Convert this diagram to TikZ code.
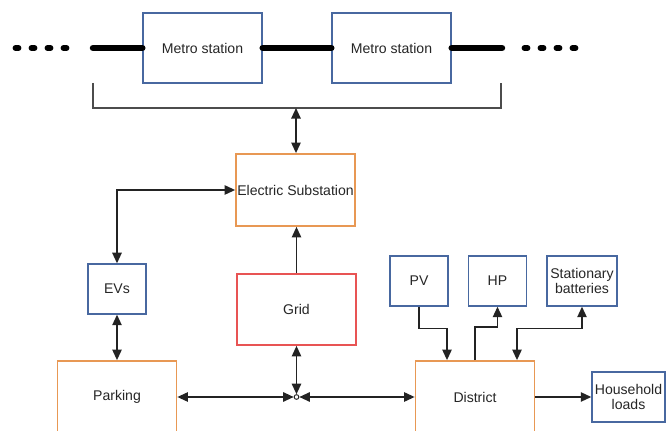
\documentclass[tikz,border=0pt]{standalone}
\usepackage{fontspec}
\setmainfont{Liberation Sans}
\usetikzlibrary{arrows.meta,calc}
\definecolor{bblue}{RGB}{72,104,160}
\definecolor{borange}{RGB}{232,152,84}
\definecolor{bred}{RGB}{232,84,84}
\definecolor{conn}{RGB}{35,35,35}
\begin{document}
\begin{tikzpicture}[x=0.03cm,y=-0.03cm,
  every node/.style={font=\fontsize{12}{13}\selectfont, text=black!85, align=center},
  bluebox/.style={draw=bblue, line width=1.2pt, inner sep=0pt},
  orangebox/.style={draw=borange, line width=1.5pt, inner sep=0pt, minimum width=3.57cm, minimum height=2.16cm},
  redbox/.style={draw=bred, line width=1.5pt, inner sep=0pt, minimum width=3.57cm, minimum height=2.13cm},
  metrobox/.style={bluebox, minimum width=3.57cm, minimum height=2.1cm},
  smallbox/.style={bluebox, minimum width=1.74cm, minimum height=1.5cm},
  conline/.style={draw=conn, line width=1.3pt},
  biarrow/.style={conline, {Triangle[length=9pt,width=8pt]}-{Triangle[length=9pt,width=8pt]}},
  onearrow/.style={conline, -{Triangle[length=9pt,width=8pt]}},
  metroline/.style={line width=5.5pt, black, line cap=round},
  dotmark/.style={fill=black, draw=none}
]
\useasboundingbox (0,0) rectangle (669,431);
\fill[white] (0,0) rectangle (669,431);

% metro stations
\node[metrobox] (m1) at (202.5,48) {Metro station};
\node[metrobox] (m2) at (391.5,48) {Metro station};
\coordinate (lend) at (93,48);
\coordinate (rend) at (502,48);
\draw[metroline] (lend) -- (m1.west);
\draw[metroline] (m1.east) -- (m2.west);
\draw[metroline] (m2.east) -- (rend);
\foreach \x in {17,33,49,65,526,542,558,574} \draw[metroline, line width=5pt] (\x-1.5,48) -- (\x+1.5,48);

% bracket
\coordinate (bl) at (93,83);
\coordinate (br) at (501,83);
\coordinate (bm) at (296,108);
\draw[draw=black!70, line width=1.1pt] (bl) |- (bm) -| (br);

% substation and grid
\node[orangebox] (sub) at (295.5,190) {Electric Substation};
\node[redbox] (grid) at (296.5,309.5) {Grid};
\draw[biarrow] (bm) -- (sub.north -| bm);
\draw[onearrow] (grid.north) -- (grid.north |- sub.south);

% EVs and parking
\node[smallbox] (evs) at (117,289) {EVs};
\node[orangebox] (park) at (117,397) {Parking};
\draw[biarrow] (evs.north) |- (sub.west);
\draw[biarrow] (evs.south) -- (park.north);

% junction
\node[draw=conn, circle, inner sep=0pt, minimum size=0.14cm, line width=0.8pt, fill=white] (jn) at (296.5,397) {};
\draw[biarrow] (grid.south) -- (jn.north);
\draw[biarrow] (park.east) -- (jn.west);

% district side
\node[orangebox] (dist) at (475,397) {District};
\draw[biarrow] (jn.east) -- (dist.west);
\node[smallbox] (pv) at (419,281) {PV};
\node[smallbox] (hp) at (497.5,281) {HP};
\node[bluebox, minimum width=2.1cm, minimum height=1.5cm] (sb) at (582,281) {Stationary\\[-1pt]batteries};
\node[bluebox, minimum width=2.19cm, minimum height=1.5cm] (hl) at (628.5,397) {Household\\[-1pt]loads};

\draw[onearrow] (pv.south) -- ++(0,22) -| ($(dist.north)+(-28,0)$);
\draw[onearrow] (dist.north) -- ++(0,-33) -| (hp.south);
\draw[biarrow] (sb.south) -- ++(0,22) -| ($(dist.north)+(42,0)$);
\draw[onearrow] (dist.east) -- (hl.west);
\end{tikzpicture}
\end{document}
